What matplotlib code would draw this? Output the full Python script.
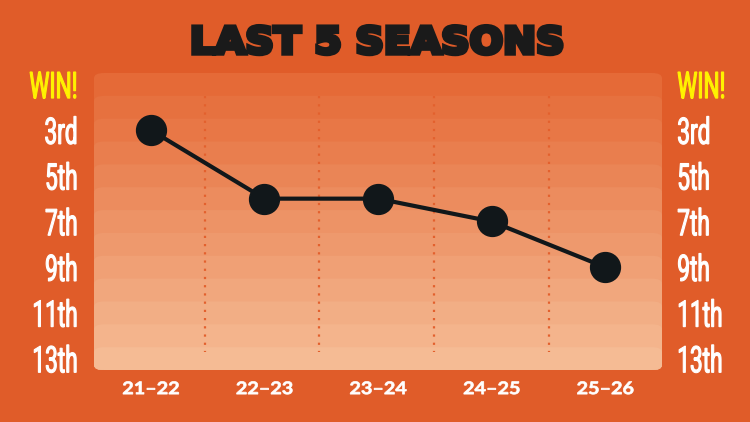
"""Last 5 seasons league finish chart."""

import matplotlib

matplotlib.use("Agg")

import matplotlib.pyplot as plt
import matplotlib.patheffects as pe
from matplotlib.colors import LinearSegmentedColormap
from matplotlib.patches import FancyBboxPatch
from matplotlib.transforms import Affine2D

SEASONS = ["21–22", "22–23", "23–24", "24–25", "25–26"]
FINISH = [3, 6, 6, 7, 9]
RANK_TICKS = [1, 3, 5, 7, 9, 11, 13]
RANK_LABELS = ["WIN!", "3rd", "5th", "7th", "9th", "11th", "13th"]
DIVIDERS = [0.475, 1.485, 2.495, 3.505]

BACKGROUND = "#E05C29"
INK = "#11171A"
COND_FONT = ["Roboto", "DejaVu Sans"]


class Stretch(pe.AbstractPathEffect):
    """Squeeze or widen glyphs, no condensed fonts are installed."""

    def __init__(self, sx, sy=1.0, anchor=0.0, stroke=0.0):
        super().__init__()
        self.sx = sx
        self.sy = sy
        self.anchor = anchor
        self.stroke = stroke

    def draw_path(self, renderer, gc, tpath, affine, rgbFace=None):
        box = tpath.get_extents()
        fixed_x = box.x1 * self.anchor
        fixed_y = (box.y0 + box.y1) / 2
        squeeze = (
            Affine2D()
            .translate(-fixed_x, -fixed_y)
            .scale(self.sx, self.sy)
            .translate(fixed_x, fixed_y)
        )
        gc0 = renderer.new_gc()
        gc0.copy_properties(gc)
        if self.stroke:
            gc0.set_linewidth(self.stroke)
            gc0.set_foreground(rgbFace)
            gc0.set_joinstyle("miter")
        renderer.draw_path(gc0, tpath, squeeze + affine, rgbFace)
        gc0.restore()


fig = plt.figure(figsize=(7.5, 4.22), dpi=100, facecolor=BACKGROUND)
ax = fig.add_axes([94 / 750, 1 - 370 / 422, 568 / 750, 297 / 422])
ax.set_facecolor("none")
ax.set_xlim(-0.5, 4.5)
ax.set_ylim(13.5, 0.5)
for spine in ax.spines.values():
    spine.set_visible(False)

# each band runs down to the panel bottom, so only its top corners show
band_cmap = LinearSegmentedColormap.from_list("bands", ["#E56A37", "#F5BB94"])
for row in range(1, 14):
    band = FancyBboxPatch(
        (-0.5, row - 0.5),
        5,
        13.5 - (row - 0.5),
        boxstyle="round,pad=0,rounding_size=0.09",
        mutation_aspect=2.49,
        facecolor=band_cmap((row - 1) / 12),
        edgecolor="none",
        zorder=row * 0.01,
    )
    ax.add_patch(band)

ax.vlines(DIVIDERS, 1.5, 12.7, color="#E3602D", linewidth=1.6, linestyles=(0, (1, 2.7)), zorder=1)
ax.plot(range(len(SEASONS)), FINISH, color=INK, linewidth=3, marker="o", markersize=21.5, zorder=3)

ax.set_xticks(range(len(SEASONS)), SEASONS)
ax.set_yticks(RANK_TICKS, RANK_LABELS)
ax.tick_params(axis="both", length=0)
ax.tick_params(axis="x", pad=8)
ax.tick_params(axis="y", pad=11.5)
for label in ax.get_xticklabels():
    label.set(color="white", fontsize=12.5, fontweight="bold", family=["Lato", "DejaVu Sans"])
    label.set_path_effects([Stretch(1.14, anchor=0.5, stroke=0.5)])

right = ax.twinx()
right.set_ylim(ax.get_ylim())
right.set_yticks(RANK_TICKS, RANK_LABELS)
right.tick_params(axis="y", length=0, pad=11)
for spine in right.spines.values():
    spine.set_visible(False)

for label in ax.get_yticklabels() + right.get_yticklabels():
    is_win = label.get_text() == "WIN!"
    label.set(color="#FFF200" if is_win else "white", fontsize=22, family=COND_FONT)
for label in ax.get_yticklabels():
    label.set_path_effects([Stretch(0.74, sy=1.2, anchor=1.0, stroke=0.8)])
for label in right.get_yticklabels():
    label.set_path_effects([Stretch(0.74, sy=1.2, anchor=0.0, stroke=0.8)])

title = fig.text(
    377 / 750,
    1 - 39 / 422,
    "LAST 5 SEASONS",
    ha="center",
    va="center_baseline",
    color="#1A1A1A",
    fontsize=26.5,
    fontweight="bold",
    family="DejaVu Sans",
)
title.set_path_effects([Stretch(1.07, anchor=0.5, stroke=3.2)])

fig.savefig("out.png", dpi=100, facecolor=BACKGROUND)
plt.close(fig)
